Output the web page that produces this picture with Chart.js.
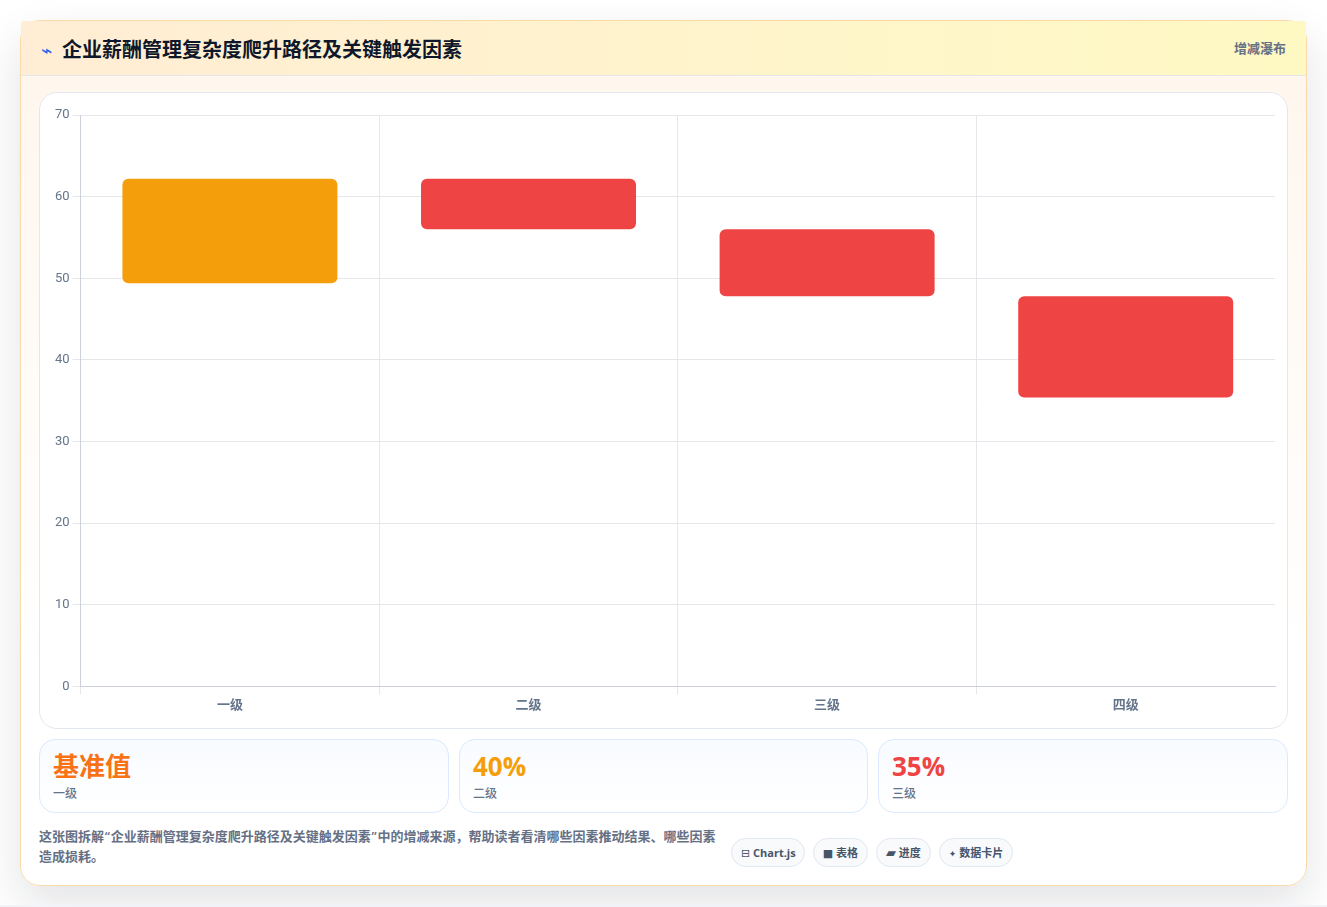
<!DOCTYPE html>
<html>
<head>
<meta charset="utf-8">
<title>企业薪酬管理复杂度爬升路径及关键触发因素</title>
<script src="https://cdn.jsdelivr.net/npm/chart.js@4"></script>
<style>
  * { box-sizing: border-box; }
  html, body { margin: 0; height: 100%; background: #fff; }
  body { width: 1327px; height: 907px; overflow: hidden; position: relative;
         font-family: "Open Sans", "Noto Sans CJK SC", sans-serif; color: #0f172a; }
  .page { position: absolute; left: 0; top: 0; width: 1327px; height: 905px; overflow: hidden; background: #fff; }
  .strip { position: absolute; left: 0; top: 905px; width: 1327px; height: 2px; background: #f1f3f9; }
  .card { position: absolute; left: 20px; top: 20px; width: 1287px; height: 866px;
          border: 1px solid #fcd9a8; border-radius: 20px;
          background: linear-gradient(180deg, #fff6ec 0%, #ffffff 75%);
          box-shadow: 0 18px 45px rgba(15, 23, 42, .12); }
  .head { position: absolute; left: 0; top: 0; right: 0; height: 55px; border-radius: 3px 3px 0 0;
          background: linear-gradient(90deg, #ffedd5, #fef9c3);
          border-bottom: 1px solid #e5e7eb; }
  .head .ico { position: absolute; left: 20px; top: 17px; font-family: "DejaVu Sans"; font-size: 19px; color: #2563eb; line-height: 24px; }
  .head h1 { position: absolute; left: 41px; top: 14px; margin: 0; font-size: 20px; line-height: 30px; font-weight: 700; color: #0f172a; }
  .head .tag { position: absolute; right: 20px; top: 17px; font-size: 13px; line-height: 20px; font-weight: 600; color: #667085; }
  .panel { position: absolute; left: 18px; top: 71px; width: 1249px; height: 637px;
           background: #fff; border: 1px solid #e2e8f0; border-radius: 18px; }
  .panel canvas { position: absolute; left: 0; top: 0; }
  .stat { position: absolute; top: 718px; height: 74px; border: 1px solid #dbeafe; border-radius: 16px;
          background: linear-gradient(180deg, #f8fbff, #ffffff); }
  .stat b { position: absolute; left: 13px; top: 9px; font-size: 26px; line-height: 34px; font-weight: 700; }
  .stat span { position: absolute; left: 13px; top: 45px; font-size: 12px; line-height: 18px; font-weight: 500; color: #64748b; }
  .note { position: absolute; left: 18px; top: 805px; width: 680px; font-size: 13px; line-height: 20px; font-weight: 600; color: #667085; }
  .note i { font-style: normal; padding: 0 .75px; }
  .chips { position: absolute; left: 710px; top: 817px; display: flex; gap: 8px; }
  .chip { height: 29px; padding: 0 9px; border: 1px solid #e2e8f0; border-radius: 15px; background: #f8fafc;
          font-size: 11px; line-height: 28px; font-weight: 700; color: #475569; white-space: nowrap; }
  .chip i { font-family: "DejaVu Sans"; font-style: normal; font-weight: 400; }
</style>
</head>
<body>
<div class="page">
<div class="card">
  <div class="head">
    <span class="ico">⌁</span>
    <h1>企业薪酬管理复杂度爬升路径及关键触发因素</h1>
    <span class="tag">增减瀑布</span>
  </div>
  <div class="panel"><canvas id="chart" width="1247" height="635"></canvas></div>
  <div class="stat" style="left:18px;width:410px"><b style="color:#f97316">基准值</b><span>一级</span></div>
  <div class="stat" style="left:438px;width:409px"><b style="color:#f59e0b">40%</b><span>二级</span></div>
  <div class="stat" style="left:857px;width:410px"><b style="color:#ef4444">35%</b><span>三级</span></div>
  <div class="note">这张图拆解<i>“</i>企业薪酬管理复杂度爬升路径及关键触发因素<i>”</i>中的增减来源，帮助读者看清哪些因素推动结果、哪些因素造成损耗。</div>
  <div class="chips">
    <span class="chip" style="padding-right:8px"><i>⊟</i> Chart.js</span>
    <span class="chip"><i>■</i> 表格</span>
    <span class="chip"><i style="font-size:13px">▰</i> 进度</span>
    <span class="chip"><i style="font-size:9px">✦</i> 数据卡片</span>
  </div>
</div>
</div>
<div class="strip"></div>
<script>
// Salary grade steps: the opening level, then each step's drop.
const categories = ['一级', '二级', '三级', '四级'];
const rangeLow  = [49.4, 56.0, 47.8, 35.4];
const rangeHigh = [62.2, 62.2, 56.0, 47.8];
const barColors = ['#f59e0b', '#ef4444', '#ef4444', '#ef4444'];
const yTicks = [0, 10, 20, 30, 40, 50, 60, 70];

new Chart(document.getElementById('chart'), {
  type: 'bar',
  data: {
    labels: categories,
    datasets: [{
      data: rangeLow.map((low, i) => [low, rangeHigh[i]]),
      backgroundColor: barColors,
      borderRadius: 6,
      borderSkipped: false,
      barPercentage: 0.9,
      categoryPercentage: 0.8
    }]
  },
  options: {
    responsive: false,
    animation: false,
    layout: { padding: { left: 12, right: 12, top: 22, bottom: 12 } },
    plugins: { legend: { display: false }, tooltip: { enabled: false } },
    scales: {
      x: {
        // The closing edge of the last category carries no line.
        grid: { color: ctx => ctx.type === 'tick' ? '#e5e7eb' : 'transparent' },
        border: { color: '#cbd0da' },
        ticks: { color: '#64748b', font: { family: '"Open Sans", "Noto Sans CJK SC"', size: 13, weight: '600' } }
      },
      y: {
        min: 0,
        max: 70,
        afterBuildTicks: axis => { axis.ticks = yTicks.map(value => ({ value })); },
        grid: { color: '#e5e7eb' },
        border: { color: '#cbd0da' },
        ticks: { color: '#64748b', font: { family: 'Roboto', size: 13 } }
      }
    }
  }
});
</script>
</body>
</html>
